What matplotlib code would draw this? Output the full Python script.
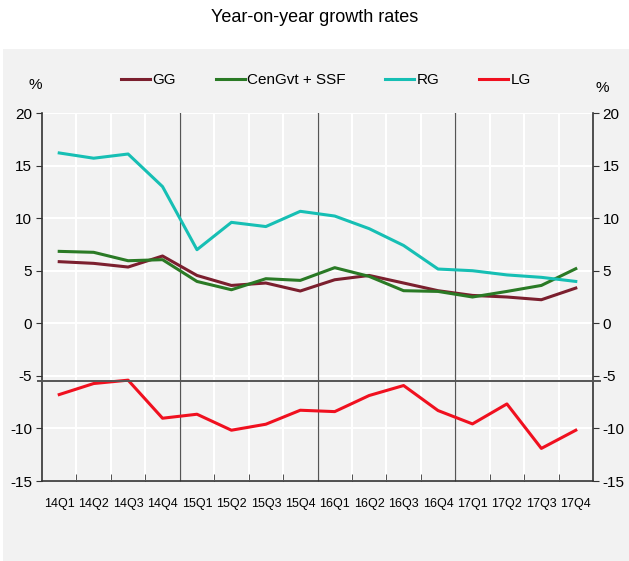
import matplotlib.pyplot as plt
from matplotlib.patches import Rectangle

quarters = ["14Q1", "14Q2", "14Q3", "14Q4", "15Q1", "15Q2", "15Q3", "15Q4",
            "16Q1", "16Q2", "16Q3", "16Q4", "17Q1", "17Q2", "17Q3", "17Q4"]

gg = [5.86, 5.7, 5.35, 6.4, 4.55, 3.6, 3.83, 3.07,
      4.14, 4.55, 3.83, 3.1, 2.65, 2.5, 2.24, 3.35]
cengvt_ssf = [6.84, 6.75, 5.95, 6.05, 3.98, 3.19, 4.24, 4.08,
              5.29, 4.46, 3.1, 3.03, 2.5, 3.03, 3.6, 5.19]
rg = [16.2, 15.7, 16.1, 13.0, 7.0, 9.6, 9.2, 10.65,
      10.2, 9.0, 7.4, 5.16, 5.0, 4.6, 4.37, 3.98]
lg = [-6.78, -5.73, -5.41, -9.03, -8.65, -10.17, -9.6, -8.27,
      -8.4, -6.87, -5.92, -8.3, -9.57, -7.67, -11.9, -10.17]

series = [("GG", gg, "#7b1f2e"),
          ("CenGvt + SSF", cengvt_ssf, "#2a7a25"),
          ("RG", rg, "#16bfb4"),
          ("LG", lg, "#f0101f")]

year_breaks = [4, 8, 12]
split_level = -5.5

plt.rcParams["axes.unicode_minus"] = False
FONT = ["Liberation Sans Narrow", "Liberation Sans", "DejaVu Sans"]
BG = "#f2f2f2"

fig = plt.figure(figsize=(6.29, 5.61), dpi=100, facecolor="white")
bg = Rectangle((3 / 629, 0), 1, 1 - 49 / 561, transform=fig.transFigure,
               facecolor=BG, edgecolor="none", zorder=-10)
fig.add_artist(bg)
fig.text(0.5, 1 - 18 / 561, "Year-on-year growth rates", ha="center", va="center",
         fontsize=13, family=["Liberation Sans", "DejaVu Sans"])

ax = fig.add_axes([42 / 629, 1 - 481 / 561, 551 / 629, 368 / 561])
ax.set_facecolor(BG)
x = list(range(len(quarters)))

for label, vals, color in series:
    ax.plot(x, vals, color=color, lw=2.2, label=label, zorder=3)

ax.set_xlim(-0.5, len(quarters) - 0.5)
ax.set_ylim(-15, 20)
ax.set_yticks(range(-15, 21, 5))
ax.set_xticks(x)
ax.set_xticklabels(quarters, family=FONT, fontsize=9)
ax.set_xticks([i - 0.5 for i in range(1, len(quarters))], minor=True)
ax.tick_params(axis="x", which="major", length=0, pad=12)
ax.tick_params(axis="x", which="minor", direction="in", length=5, color="#333333")

ax.grid(axis="y", color="white", lw=1.5, zorder=1)
ax.grid(axis="x", which="minor", color="white", lw=1.5, zorder=1)
ax.set_axisbelow(True)

for b in year_breaks:
    ax.axvline(b - 0.5, color="#555555", lw=0.9, zorder=2)
ax.plot([-0.008, 1.012], [split_level, split_level], color="#555555", lw=1.4,
        transform=ax.get_yaxis_transform(), clip_on=False, zorder=4)

ax.spines["top"].set_visible(False)
for side in ["left", "right", "bottom"]:
    ax.spines[side].set_color("#333333")
    ax.spines[side].set_linewidth(1.2)

ax.tick_params(axis="y", direction="out", length=4, color="#333333",
               labelsize=11, left=True, right=True, labelright=True, pad=3)
for t in ax.yaxis.get_major_ticks():
    t.label1.set_family(FONT)
    t.label2.set_family(FONT)

fig.text(35 / 629, 1 - 85 / 561, "%", ha="center", va="center", fontsize=11, family=FONT)
fig.text(602 / 629, 1 - 88 / 561, "%", ha="center", va="center", fontsize=11, family=FONT)

fig.legend(loc="center", bbox_to_anchor=(326 / 629, 1 - 80 / 561), ncol=4,
           frameon=False, prop={"family": FONT, "size": 11},
           handlelength=1.9, handletextpad=0.15, columnspacing=2.6)

fig.savefig("out.png", dpi=100, facecolor="white")
